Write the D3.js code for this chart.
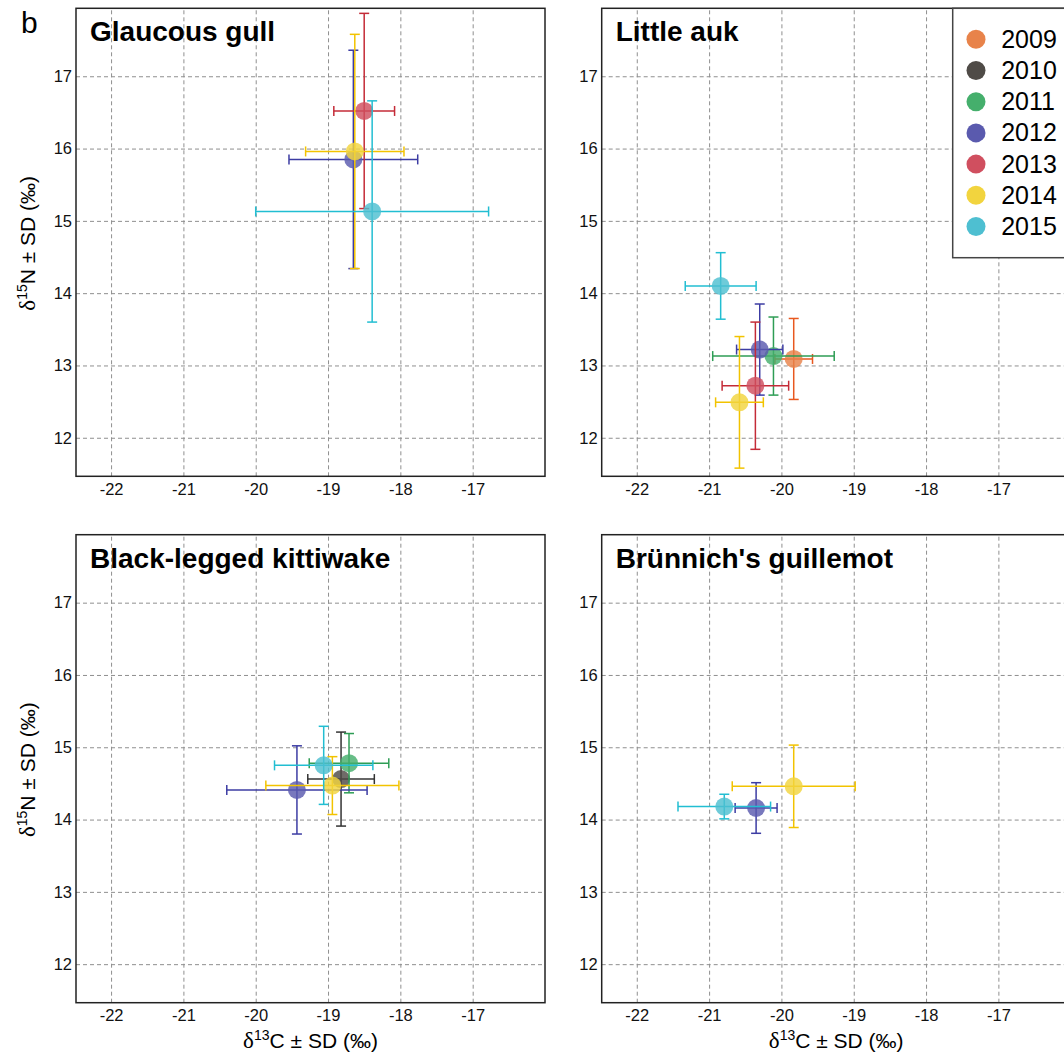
<!DOCTYPE html>
<html>
<head>
<meta charset="utf-8">
<script src="https://cdn.jsdelivr.net/npm/d3@7"></script>
<style>
  body { margin: 0; background: #fff; }
  svg { display: block; font-family: "Liberation Sans", Arial, sans-serif; }
</style>
</head>
<body>
<div id="chart"></div>
<script>
// years, point colours and error bar colours
var years = [2009, 2010, 2011, 2012, 2013, 2014, 2015];
var dotColors = ["#E8834A", "#4F4B47", "#45AF6C", "#5A5AAE", "#D04F5F", "#F2D43E", "#4EBFD1"];
var barColors = ["#E8581F", "#333333", "#2E9D55", "#3C3CA3", "#C42B37", "#F2C300", "#22BED2"];

var xTicks = [-22, -21, -20, -19, -18, -17];
var yTicks = [12, 13, 14, 15, 16, 17];

// [year, d13C, sd, d15N, sd]
var glaucousGull = [
  [2012, -18.65, 0.89, 15.85, 1.51],
  [2013, -18.50, 0.42, 16.52, 1.35],
  [2014, -18.63, 0.68, 15.96, 1.62],
  [2015, -18.39, 1.61, 15.13, 1.53]
];
var littleAuk = [
  [2009, -19.83, 0.26, 13.09, 0.56],
  [2011, -20.11, 0.84, 13.13, 0.54],
  [2012, -20.30, 0.32, 13.22, 0.63],
  [2013, -20.36, 0.46, 12.72, 0.88],
  [2014, -20.58, 0.33, 12.49, 0.91],
  [2015, -20.84, 0.49, 14.10, 0.46]
];
var kittiwake = [
  [2010, -18.82, 0.46, 14.56, 0.65],
  [2011, -18.71, 0.55, 14.78, 0.41],
  [2012, -19.43, 0.97, 14.41, 0.61],
  [2014, -18.94, 0.92, 14.47, 0.40],
  [2015, -19.06, 0.68, 14.75, 0.54]
];
var guillemot = [
  [2012, -20.35, 0.29, 14.16, 0.35],
  [2014, -19.83, 0.85, 14.46, 0.57],
  [2015, -20.79, 0.64, 14.18, 0.17]
];

var panelNames = ["Glaucous gull", "Little auk", "Black-legged kittiwake", "Brünnich's guillemot"];
var panelData = [glaucousGull, littleAuk, kittiwake, guillemot];

var W = 1064, H = 1052;
var pw = 469, ph = 468;
var origins = [[76, 8.3], [601.7, 8.3], [76, 534.7], [601.7, 534.7]];

var x = d3.scaleLinear().domain([-22.485, -16.0]).range([0, pw]);
var y = d3.scaleLinear().domain([11.467, 17.94]).range([ph, 0]);
var col = d3.scaleOrdinal().domain(years).range(dotColors);
var barCol = d3.scaleOrdinal().domain(years).range(barColors);
var tickFmt = function(d) { return String(d); };

var svg = d3.select("#chart").append("svg")
    .attr("width", W)
    .attr("height", H);

svg.append("text")
    .attr("x", 21)
    .attr("y", 33)
    .style("font-size", "30px")
    .text("b");

panelNames.forEach(function(name, i) {
  var g = svg.append("g")
      .attr("transform", "translate(" + origins[i][0] + "," + origins[i][1] + ")");

  // grid
  g.append("g")
      .attr("class", "grid")
      .attr("transform", "translate(0," + ph + ")")
      .call(d3.axisBottom(x).tickValues(xTicks).tickSize(-ph).tickFormat(""));
  g.append("g")
      .attr("class", "grid")
      .call(d3.axisLeft(y).tickValues(yTicks).tickSize(-pw).tickFormat(""));
  g.selectAll(".grid .domain").remove();
  g.selectAll(".grid line")
      .style("stroke", "#8f8f8f")
      .style("stroke-width", "1px")
      .style("stroke-dasharray", "4,3");

  // tick labels
  var xa = g.append("g")
      .attr("transform", "translate(0," + ph + ")")
      .call(d3.axisBottom(x).tickValues(xTicks).tickSize(0).tickPadding(6.6).tickFormat(tickFmt));
  var ya = g.append("g")
      .call(d3.axisLeft(y).tickValues(yTicks).tickSize(0).tickPadding(4).tickFormat(tickFmt));
  [xa, ya].forEach(function(a) {
    a.select(".domain").remove();
    a.selectAll("text")
        .style("font-size", "16.5px")
        .style("font-family", "'Liberation Sans', Arial, sans-serif")
        .style("fill", "#111");
  });

  // points with error bars
  var pts = g.selectAll(".pt")
      .data(panelData[i])
      .enter()
      .append("g")
      .attr("class", "pt");

  pts.append("line")
      .attr("x1", function(d) { return x(d[1] - d[2]); })
      .attr("x2", function(d) { return x(d[1] + d[2]); })
      .attr("y1", function(d) { return y(d[3]); })
      .attr("y2", function(d) { return y(d[3]); });
  pts.append("line")
      .attr("x1", function(d) { return x(d[1]); })
      .attr("x2", function(d) { return x(d[1]); })
      .attr("y1", function(d) { return y(d[3] - d[4]); })
      .attr("y2", function(d) { return y(d[3] + d[4]); });
  // caps
  [-1, 1].forEach(function(s) {
    pts.append("line")
        .attr("x1", function(d) { return x(d[1] + s * d[2]); })
        .attr("x2", function(d) { return x(d[1] + s * d[2]); })
        .attr("y1", function(d) { return y(d[3]) - 5; })
        .attr("y2", function(d) { return y(d[3]) + 5; });
    pts.append("line")
        .attr("x1", function(d) { return x(d[1]) - 5; })
        .attr("x2", function(d) { return x(d[1]) + 5; })
        .attr("y1", function(d) { return y(d[3] + s * d[4]); })
        .attr("y2", function(d) { return y(d[3] + s * d[4]); });
  });
  pts.selectAll("line")
      .style("stroke", function(d) { return barCol(d[0]); })
      .style("stroke-width", "1.5px");

  pts.append("circle")
      .attr("cx", function(d) { return x(d[1]); })
      .attr("cy", function(d) { return y(d[3]); })
      .attr("r", 9)
      .style("fill", function(d) { return col(d[0]); })
      .style("fill-opacity", 0.82);

  // frame
  g.append("rect")
      .attr("width", pw)
      .attr("height", ph)
      .style("fill", "none")
      .style("stroke", "#222")
      .style("stroke-width", "1.5px");

  g.append("text")
      .attr("x", 14)
      .attr("y", 33)
      .style("font-size", "28px")
      .style("font-weight", "bold")
      .text(name);

  // axis titles
  if (i >= 2) {
    var xl = g.append("text")
        .attr("x", pw / 2)
        .attr("y", ph + 45)
        .attr("text-anchor", "middle")
        .style("font-size", "21px");
    xl.append("tspan").style("font-family", "'Liberation Serif', serif").style("font-size", "23px").text("δ");
    xl.append("tspan").attr("dy", -8).style("font-size", "14px").text("13");
    xl.append("tspan").attr("dy", 8).text("C ± SD (‰)");
  }
  if (i % 2 == 0) {
    var yl = g.append("text")
        .attr("transform", "translate(" + (-41) + "," + (235) + ") rotate(-90)")
        .attr("text-anchor", "middle")
        .style("font-size", "21px");
    yl.append("tspan").style("font-family", "'Liberation Serif', serif").style("font-size", "23px").text("δ");
    yl.append("tspan").attr("dy", -8).style("font-size", "14px").text("15");
    yl.append("tspan").attr("dy", 8).text("N ± SD (‰)");
  }

  // legend in Little auk panel
  if (i == 1) {
    var lg = g.append("g").attr("transform", "translate(351,0)");
    lg.append("rect")
        .attr("width", 140)
        .attr("height", 249.4)
        .style("fill", "#fff")
        .style("stroke", "#444")
        .style("stroke-width", "1.5px");
    var items = lg.selectAll(".item")
        .data(years)
        .enter()
        .append("g")
        .attr("transform", function(d, k) { return "translate(0," + (31 + k * 31.2) + ")"; });
    items.append("circle")
        .attr("cx", 23.3)
        .attr("r", 9.5)
        .style("fill", function(d) { return col(d); });
    items.append("text")
        .attr("x", 48.5)
        .attr("y", 8.5)
        .style("font-size", "25px")
        .text(function(d) { return d; });
  }
});
</script>
</body>
</html>
